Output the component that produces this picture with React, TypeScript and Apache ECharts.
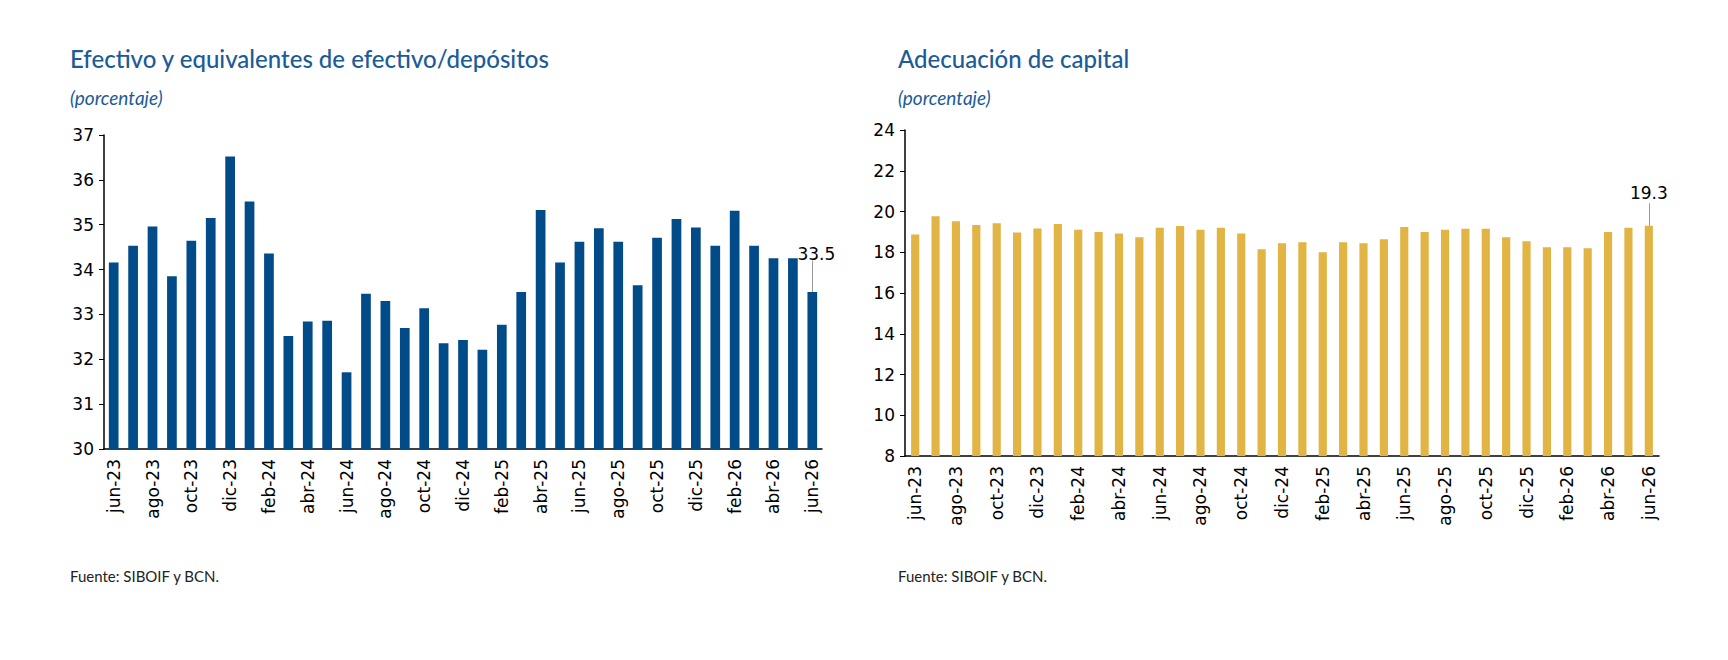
import { useEffect, useRef } from "react";
import * as echarts from "echarts";

const months = [
  "jun-23", "jul-23", "ago-23", "sep-23", "oct-23", "nov-23", "dic-23", "ene-24", "feb-24", "mar-24",
  "abr-24", "may-24", "jun-24", "jul-24", "ago-24", "sep-24", "oct-24", "nov-24", "dic-24", "ene-25",
  "feb-25", "mar-25", "abr-25", "may-25", "jun-25", "jul-25", "ago-25", "sep-25", "oct-25", "nov-25",
  "dic-25", "ene-26", "feb-26", "mar-26", "abr-26", "may-26", "jun-26",
];

const efectivo = [
  34.16, 34.53, 34.96, 33.85, 34.64, 35.15, 36.52, 35.52, 34.36, 32.52,
  32.84, 32.86, 31.71, 33.46, 33.3, 32.7, 33.14, 32.36, 32.43, 32.21,
  32.77, 33.5, 35.33, 34.16, 34.62, 34.92, 34.62, 33.65, 34.71, 35.13,
  34.94, 34.53, 35.31, 34.53, 34.25, 34.25, 33.5,
];

const capital = [
  18.87, 19.77, 19.52, 19.34, 19.42, 18.97, 19.16, 19.39, 19.1, 19.0,
  18.92, 18.74, 19.2, 19.29, 19.1, 19.2, 18.92, 18.15, 18.44, 18.49,
  18.0, 18.49, 18.44, 18.64, 19.24, 19.0, 19.1, 19.15, 19.15, 18.74,
  18.54, 18.25, 18.25, 18.2, 19.0, 19.2, 19.3,
];

const titleBlue = "#1b5b98";
const axisFont = "DejaVu Sans";

const xAxis = (gridIndex: number) => ({
  type: "category" as const,
  gridIndex,
  data: months,
  axisLine: { lineStyle: { color: "#000", width: 1.5 } },
  axisTick: { interval: 1, lineStyle: { color: "#000" }, length: 6 },
  axisLabel: { interval: 1, rotate: 90, color: "#000", fontSize: 17, fontFamily: axisFont, margin: 10 },
});

const yAxis = (gridIndex: number, min: number, max: number, interval: number) => ({
  type: "value" as const,
  gridIndex,
  min,
  max,
  interval,
  splitLine: { show: false },
  axisLine: { show: true, lineStyle: { color: "#000", width: 1.5 } },
  axisTick: { show: true, length: 5, lineStyle: { color: "#000" } },
  axisLabel: { color: "#000", fontSize: 17, fontFamily: axisFont, margin: 10 },
});

const lastLabel = (v: number, lift: number) => ({
  symbol: "none",
  silent: true,
  label: { show: false },
  lineStyle: { color: "#999", width: 1, type: "solid" as const },
  data: [[{ coord: [months.length - 1, v] }, { coord: [months.length - 1, v + lift] }]],
});

export default function App() {
  const ref = useRef<HTMLDivElement | null>(null);

  useEffect(() => {
    document.body.style.margin = "0";
    if (!ref.current) return;
    const chart = echarts.init(ref.current, undefined, { renderer: "svg" });
    const text = (left: number, top: number, t: string, size: number, extra = {}) => ({
      type: "text",
      left,
      top,
      style: { text: t, fontSize: size, fill: titleBlue, fontFamily: "Lato", ...extra },
    });
    chart.setOption({
      animation: false,
      backgroundColor: "#fff",
      graphic: [
        text(70, 46, "Efectivo y equivalentes de efectivo/depósitos", 24, { fontWeight: 500 }),
        text(70, 88, "(porcentaje)", 19, { fontStyle: "italic" }),
        text(898, 46, "Adecuación de capital", 24, { fontWeight: 500 }),
        text(898, 88, "(porcentaje)", 19, { fontStyle: "italic" }),
        text(70, 568, "Fuente: SIBOIF y BCN.", 15, { fill: "#222" }),
        text(898, 568, "Fuente: SIBOIF y BCN.", 15, { fill: "#222" }),
      ],
      grid: [
        { left: 104, top: 135, width: 718, height: 314 },
        { left: 905, top: 130, width: 754, height: 326 },
      ],
      xAxis: [xAxis(0), xAxis(1)],
      yAxis: [yAxis(0, 30, 37, 1), yAxis(1, 8, 24, 2)],
      series: [
        {
          type: "bar",
          data: efectivo.map((v, i) =>
            i === efectivo.length - 1
              ? { value: v, label: { show: true, position: "top", distance: 30, offset: [4, 0], formatter: "33.5", color: "#000", fontSize: 17, fontFamily: axisFont } }
              : v
          ),
          barWidth: "50%",
          itemStyle: { color: "#004b88" },
          markLine: lastLabel(33.5, 0.7),
        },
        {
          type: "bar",
          xAxisIndex: 1,
          yAxisIndex: 1,
          data: capital.map((v, i) =>
            i === capital.length - 1
              ? { value: v, label: { show: true, position: "top", distance: 24, formatter: "19.3", color: "#000", fontSize: 17, fontFamily: axisFont } }
              : v
          ),
          barWidth: "40%",
          itemStyle: { color: "#e1b443" },
          markLine: lastLabel(19.3, 1.1),
        },
      ],
    });
    return () => chart.dispose();
  }, []);

  return <div ref={ref} style={{ width: 1728, height: 660 }} />;
}
